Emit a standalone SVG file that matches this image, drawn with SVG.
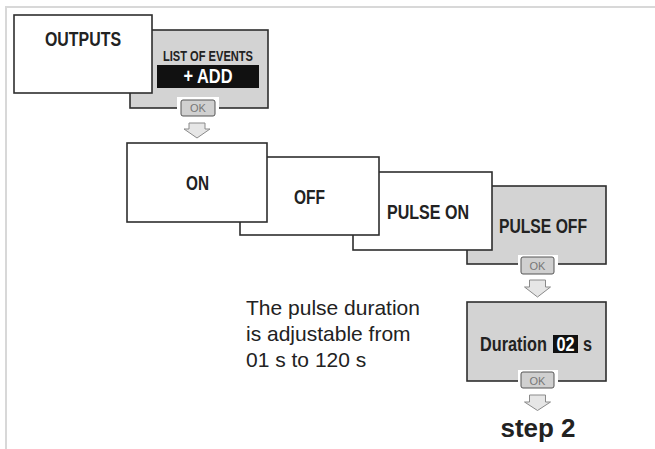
<svg xmlns="http://www.w3.org/2000/svg" width="655" height="449" viewBox="0 0 655 449">
<style>
.bw{fill:#fff;stroke:#2e2e2e;stroke-width:1.6}
.bg{fill:#d3d3d3;stroke:#2e2e2e;stroke-width:1.6}
.lbl{font-family:"Liberation Sans Narrow","Liberation Sans",Arial,sans-serif;font-weight:bold;fill:#222;text-anchor:middle}
.okbg{fill:#fff}
.ok{fill:#d0d0d0;stroke:#555;stroke-width:1}
.okt{font-family:"Liberation Sans",Arial,sans-serif;font-size:11px;fill:#777;text-anchor:middle}
.arr{fill:#e6e6e6;stroke:#8a8a8a;stroke-width:1}
.para{font-family:"Liberation Sans",Arial,sans-serif;font-size:21px;fill:#222}
</style>
<rect width="655" height="449" fill="#fff"/>
<path d="M6 449 V7 H655" fill="none" stroke="#d8d8d8" stroke-width="2"/>

<g id="list-of-events">
<rect class="bg" x="130" y="30" width="138" height="78"/>
<text class="lbl" x="208" y="61" font-size="15" textLength="90" lengthAdjust="spacingAndGlyphs">LIST OF EVENTS</text>
<rect x="157" y="65" width="102" height="23" fill="#111"/>
<text class="lbl" x="208" y="83" font-size="20" style="fill:#fff" textLength="49" lengthAdjust="spacingAndGlyphs">+ ADD</text>
<rect class="okbg" x="177" y="97" width="42" height="21"/>
<rect class="ok" x="181" y="100" width="34" height="16" rx="2"/>
<text class="okt" x="198" y="112">OK</text>
</g>

<g id="outputs">
<rect class="bw" x="14" y="15" width="138" height="78"/>
<text class="lbl" x="83" y="46" font-size="19.5" textLength="76" lengthAdjust="spacingAndGlyphs">OUTPUTS</text>
</g>

<g id="pulse-off">
<rect class="bg" x="467" y="186" width="139" height="78"/>
<text class="lbl" x="543" y="233" font-size="19.5" textLength="88" lengthAdjust="spacingAndGlyphs">PULSE OFF</text>
<rect class="okbg" x="518" y="255" width="40" height="21"/>
<rect class="ok" x="521" y="257" width="33" height="17" rx="2"/>
<text class="okt" x="537.5" y="269.5">OK</text>
</g>

<g id="pulse-on">
<rect class="bw" x="353" y="172" width="139" height="78"/>
<text class="lbl" x="428" y="219" font-size="19.5" textLength="82" lengthAdjust="spacingAndGlyphs">PULSE ON</text>
</g>

<g id="off">
<rect class="bw" x="240" y="157" width="139" height="78"/>
<text class="lbl" x="309.5" y="204" font-size="19.5" textLength="31" lengthAdjust="spacingAndGlyphs">OFF</text>
</g>

<g id="on">
<rect class="bw" x="127" y="143" width="140" height="79"/>
<text class="lbl" x="197.5" y="190" font-size="19.5" textLength="23" lengthAdjust="spacingAndGlyphs">ON</text>
</g>

<g id="duration">
<rect class="bg" x="467" y="302" width="139" height="79"/>
<rect x="553" y="335" width="25" height="18" fill="#111"/>
<text class="lbl" transform="scale(0.835,1)" y="351" font-size="19.5" style="text-anchor:start"><tspan x="574.9">Duration</tspan><tspan x="666.5" style="fill:#fff">02</tspan><tspan x="698.2">s</tspan></text>
<rect class="okbg" x="518" y="370" width="40" height="21"/>
<rect class="ok" x="521" y="372" width="33" height="16" rx="2"/>
<text class="okt" x="537.5" y="384.5">OK</text>
</g>

<g id="connectors">
<path class="arr" d="M189 123 h16 v6 h5 l-13 9 l-13 -9 h5 z"/>
<path class="arr" d="M529.5 280 h16 v7 h5 l-13 10 l-13 -10 h5 z"/>
<path class="arr" d="M529.5 395 h16 v7 h5 l-13 8.5 l-13 -8.5 h5 z"/>
</g>

<g id="note">
<text class="para" x="246" y="315">The pulse duration</text>
<text class="para" x="246" y="341">is adjustable from</text>
<text class="para" x="246" y="367">01 s to 120 s</text>
</g>

<g id="step2">
<text x="538" y="437" font-family="'Liberation Sans',Arial,sans-serif" font-weight="bold" font-size="26" fill="#222" text-anchor="middle">step 2</text>
</g>
</svg>
